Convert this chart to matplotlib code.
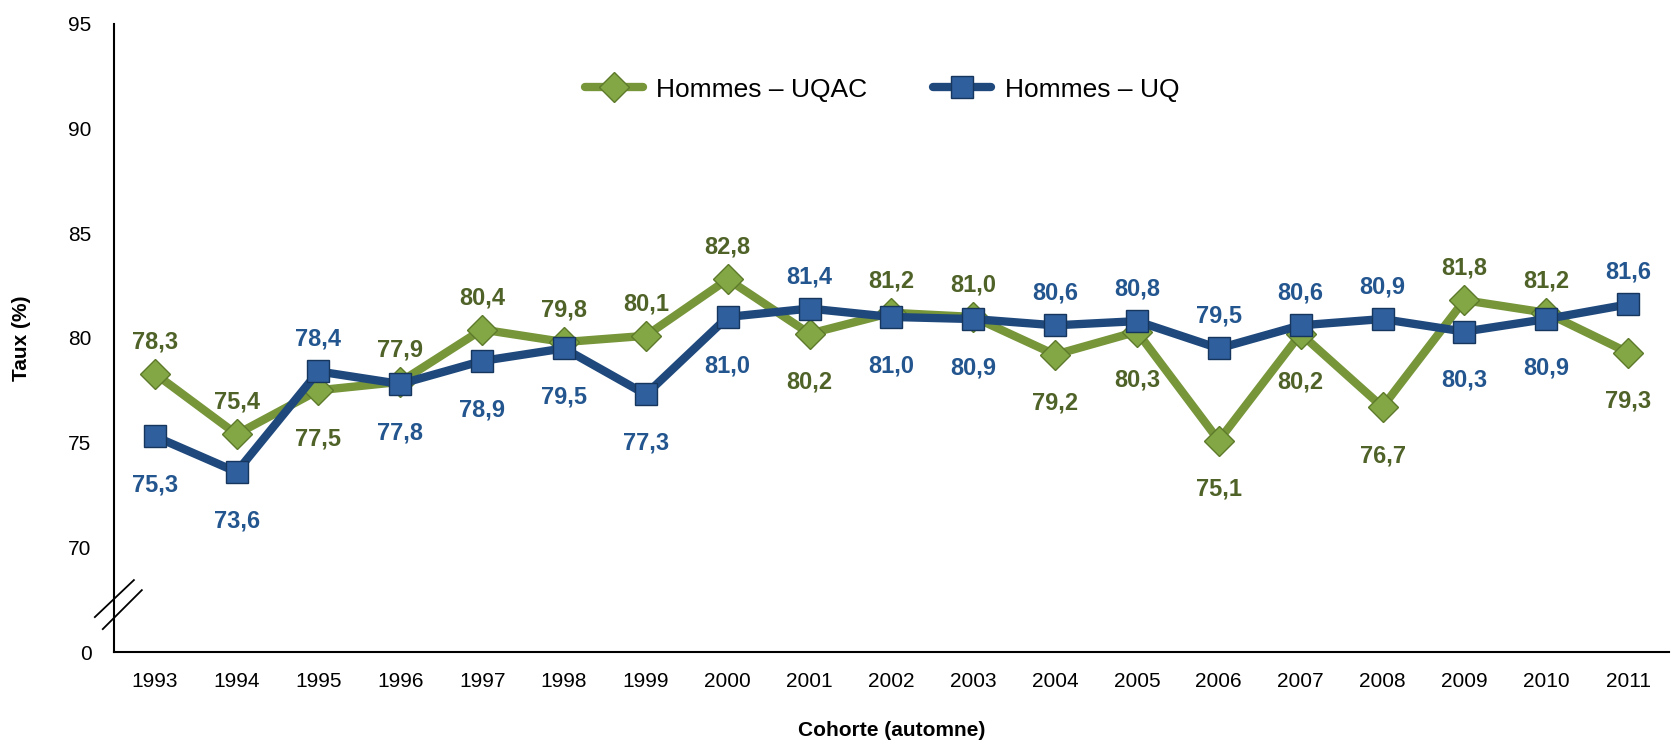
import matplotlib
matplotlib.use('Agg')
import matplotlib.pyplot as plt
from matplotlib.lines import Line2D

years = [str(y) for y in range(1993, 2012)]
uqac = [78.3, 75.4, 77.5, 77.9, 80.4, 79.8, 80.1, 82.8, 80.2, 81.2,
        81.0, 79.2, 80.3, 75.1, 80.2, 76.7, 81.8, 81.2, 79.3]
uq = [75.3, 73.6, 78.4, 77.8, 78.9, 79.5, 77.3, 81.0, 81.4, 81.0,
      80.9, 80.6, 80.8, 79.5, 80.6, 80.9, 80.3, 80.9, 81.6]
ytick_vals = [65, 70, 75, 80, 85, 90, 95]
ytick_labels = ['0', '70', '75', '80', '85', '90', '95']

narrow = ['Liberation Sans Narrow', 'Liberation Sans', 'DejaVu Sans']
plt.rcParams['font.family'] = ['Liberation Sans', 'DejaVu Sans']

green, green_dark, green_lbl = '#779539', '#5d7a2a', '#4f6228'
blue, blue_dark, blue_lbl = '#1f497d', '#16365e', '#23558f'

fig = plt.figure(figsize=(16.74, 7.41), dpi=100)
ax = fig.add_axes([0.068, 0.12, 0.929, 0.848])

x = list(range(len(years)))
ax.plot(x, uqac, color=green, lw=6, marker='D', ms=15.5, mfc='#83a744',
        mec=green_dark, mew=1, solid_capstyle='round', zorder=3,
        label='Hommes – UQAC')
ax.plot(x, uq, color=blue, lw=6, marker='s', ms=16, mfc='#2f5f9c',
        mec=blue_dark, mew=1, solid_capstyle='round', zorder=4,
        label='Hommes – UQ')

# labels: the higher series above, the lower one below
for i in x:
    a, b = uqac[i], uq[i]
    up_a = a > b
    for val, col, up in ((a, green_lbl, up_a), (b, blue_lbl, not up_a)):
        ax.annotate(f'{val:.1f}'.replace('.', ','), (i, val),
                    xytext=(0, 23 if up else -35), textcoords='offset points',
                    ha='center', va='center', fontsize=17, fontweight='bold',
                    color=col, family=narrow, zorder=5)

ax.set_xlim(-0.5, len(years) - 0.5)
ax.set_ylim(65, 95)
ax.set_xticks(x)
ax.set_xticklabels(years, fontsize=15)
ax.set_yticks(ytick_vals)
ax.set_yticklabels(ytick_labels, fontsize=15)
ax.tick_params(length=0, pad=14)
ax.tick_params(axis='y', pad=16)
for s in ('top', 'right'):
    ax.spines[s].set_visible(False)
for s in ('left', 'bottom'):
    ax.spines[s].set_linewidth(1.5)

# axis break marks
for (x0, x1), (y0, y1) in (((-0.0122, 0.0129), (0.0557, 0.1146)),
                           ((-0.0071, 0.0180), (0.0366, 0.0986))):
    ax.add_line(Line2D([x0, x1], [y0, y1], transform=ax.transAxes,
                       color='black', lw=1.3, clip_on=False))

ax.set_ylabel('Taux (%)', fontsize=15, fontweight='bold', family=narrow)
ax.yaxis.set_label_coords(-0.053, 0.5)
ax.set_xlabel('Cohorte (automne)', fontsize=15, fontweight='bold',
              family=narrow, labelpad=22)

ax.legend(loc='center', bbox_to_anchor=(0.494, 0.895), ncol=2, frameon=False,
          prop={'family': narrow, 'size': 19}, handlelength=2.2,
          columnspacing=2.5, handletextpad=0.5)

fig.savefig('out.png', dpi=100)
